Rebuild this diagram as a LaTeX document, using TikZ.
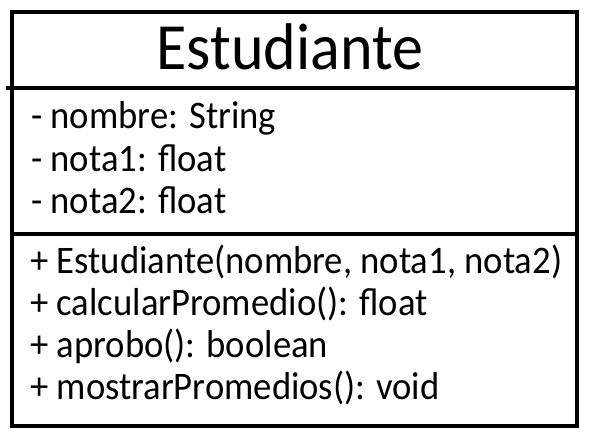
\documentclass[tikz,border=0pt]{standalone}
\usepackage{fontspec}
\setmainfont[FakeStretch=0.94]{Carlito}
\usetikzlibrary{positioning}

\begin{document}
\begin{tikzpicture}[x=1pt,y=1pt,
  box/.style={draw, line width=4pt},
  title/.style={font=\fontsize{66}{70}\selectfont, anchor=base, inner sep=0pt},
  member/.style={font=\fontsize{39}{42}\selectfont, anchor=base west, inner sep=0pt},
]
\useasboundingbox (0,0) rectangle (594,-438);

% class box
\draw[box] (12,-12) rectangle (577,-426);
\draw[box] (6,-88) -- (577,-88);
\draw[box] (12,-234) -- (577,-234);

\node[title] (name) at (290,-70) {Estudiante};

% attributes
\node[member] (attr1) at (31,-129) {- nombre: String};
\node[member] (attr2) at (31,-172) {- nota1: float};
\node[member] (attr3) at (31,-214) {- nota2: float};

% methods
\node[member] (meth1) at (30,-273) {+ Estudiante(nombre, nota1, nota2)};
\node[member] (meth2) at (30,-315) {+ calcularPromedio(): float};
\node[member] (meth3) at (30,-357) {+ aprobo(): boolean};
\node[member] (meth4) at (30,-399) {+ mostrarPromedios(): void};

\end{tikzpicture}
\end{document}
